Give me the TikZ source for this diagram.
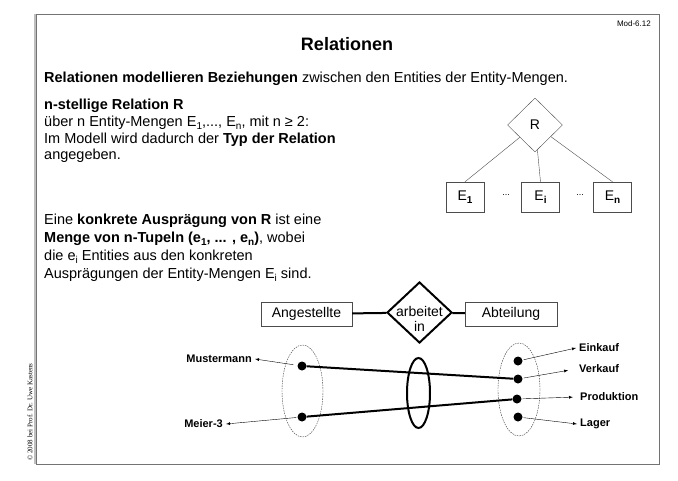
\documentclass[tikz,border=0pt]{standalone}
\usepackage{fontspec}
\setmainfont{Liberation Sans}
\newfontfamily\copyfont{Liberation Serif}
\usepackage{tikz}
\usetikzlibrary{shapes, arrows, positioning, calc}

\newcommand{\tief}[1]{\raisebox{-0.4ex}{\fontsize{10}{10}\selectfont #1}}
\newcommand{\fliess}{\fontsize{14.5}{17}\selectfont}

\begin{document}
\begin{tikzpicture}[x=1pt, y=-1pt,
		zeile/.style={anchor=west, inner sep=0pt, font=\fliess},
		menge/.style={draw=black!70, minimum height=24, font=\fontsize{14}{14}\selectfont},
		ebox/.style={draw=black!70, minimum width=38, minimum height=30, inner sep=0pt, font=\fontsize{14}{14}\selectfont},
		dot/.style={circle, fill, inner sep=0pt, minimum size=9},
		lbl/.style={inner sep=3pt, font=\fontsize{11}{11}\selectfont\bfseries},
		dick/.style={line width=2pt},
		fein/.style={black!80, dash pattern=on 1.5pt off 1pt}]
		\useasboundingbox (0,0) rectangle (678,480);

		% Rahmen
		\draw[black!25, line width=2pt] (35,14) -- (35,464);
		\draw[black!55, line width=0.8pt] (36,14) rectangle (659,464);
		\node[rotate=90, anchor=west, inner sep=0pt, font=\copyfont\fontsize{7}{7}\selectfont] (copy) at (30,461) {\textcopyright{} 2008 bei Prof. Dr. Uwe Kastens};

		\node[anchor=east, inner sep=0pt, font=\fontsize{8}{8}\selectfont] (mod) at (651,24) {Mod-6.12};
		\node[font=\fontsize{18}{18}\selectfont\bfseries] (titel) at (347,44) {Relationen};

		% Text
		\node[zeile] (z1) at (44,79) {\textbf{Relationen modellieren Beziehungen} zwischen den Entities der Entity-Mengen.};
		\node[zeile] (z2) at (44,106) {\textbf{n-stellige Relation R}};
		\node[zeile] (z3) at (44,123) {über n Entity-Mengen E\tief{1},..., E\tief{n}, mit n ≥ 2:};
		\node[zeile] (z4) at (44,140) {Im Modell wird dadurch der \textbf{Typ der Relation}};
		\node[zeile] (z5) at (44,156) {angegeben.};
		\node[zeile] (z6) at (44,221) {Eine \textbf{konkrete Ausprägung von R} ist eine};
		\node[zeile] (z7) at (44,239) {\textbf{Menge von n-Tupeln (e\tief{1}, ... , e\tief{n})}, wobei};
		\node[zeile] (z8) at (44,257) {die e\tief{i} Entities aus den konkreten};
		\node[zeile] (z9) at (44,275) {Ausprägungen der Entity-Mengen E\tief{i} sind.};

		% Relation R
		\node[diamond, draw=black!70, minimum width=55, minimum height=54, inner sep=0pt, font=\fontsize{14}{14}\selectfont] (R) at (535,125) {R};
		\node[ebox] (E1) at (465,197) {E\tief{\bfseries 1}};
		\node[ebox] (Ei) at (540.5,197) {E\tief{\bfseries i}};
		\node[ebox] (En) at (612.5,197) {E\tief{\bfseries n}};
		\node[font=\fontsize{9}{9}\selectfont] (p1) at (506,195) {...};
		\node[font=\fontsize{9}{9}\selectfont] (p2) at (580,195) {...};
		\draw[black!70] (R) -- (E1.north);
		\draw[black!70] (R) -- (Ei.north);
		\draw[black!70] (R) -- (En.north);

		% arbeitet in
		\node[menge, minimum width=91] (ang) at (306.5,314) {Angestellte};
		\node[diamond, draw, dick, minimum width=65, minimum height=61, inner sep=0pt] (arb) at (419.5,312.5) {};
		\node[align=center, inner sep=0pt, font=\fontsize{14}{15}\selectfont] (arbtext) at (419.5,319) {arbeitet\\in};
		\node[menge, minimum width=92] (abt) at (511,314) {Abteilung};
		\draw[dick] (ang) -- (arb);
		\draw[dick] (arb) -- (abt);

		% Mengen
		\draw[fein] (302.5,391) ellipse (20.5pt and 46pt);
		\draw[fein] (519,389.5) ellipse (21pt and 46.5pt);
		\draw[dick] (418.5,393) ellipse (11.5pt and 35pt);

		\node[dot] (must) at (302,366) {};
		\node[dot] (meier) at (302,417) {};
		\node[dot] (ein) at (518,361) {};
		\node[dot] (verk) at (518,379) {};
		\node[dot] (prod) at (517,399) {};
		\node[dot] (lag) at (518,417) {};

		\node[lbl, anchor=east] (lmust) at (255,359) {Mustermann};
		\node[lbl, anchor=east] (lmeier) at (226,424) {Meier-3};
		\node[lbl, anchor=west] (lein) at (576,348) {Einkauf};
		\node[lbl, anchor=west] (lverk) at (576,369) {Verkauf};
		\node[lbl, anchor=west] (lprod) at (577,397) {Produktion};
		\node[lbl, anchor=west] (llag) at (577,424) {Lager};

		\draw[dick] (must) -- (verk);
		\draw[dick] (meier) -- (prod);

		\draw[-latex, shorten <=4pt] (must) -- (lmust.east);
		\draw[-latex, shorten <=1pt] (meier) -- (lmeier.east);
		\draw[-latex, shorten <=1pt] (ein) -- (lein.west);
		\draw[-latex, shorten <=1pt, shorten >=8pt] (verk) -- (lverk.west);
		\draw[-latex, shorten <=1pt, shorten >=4pt] (prod) -- (lprod.west);
		\draw[-latex, shorten <=1pt] (lag) -- (llag.west);
	\end{tikzpicture}
\end{document}
